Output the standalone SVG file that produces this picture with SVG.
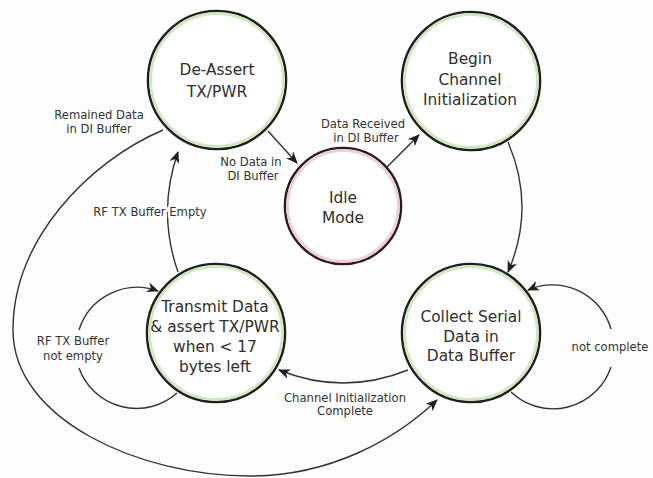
<svg xmlns="http://www.w3.org/2000/svg" width="653" height="478" viewBox="0 0 653 478">
  <defs>
    <marker id="arrow" viewBox="0 0 12 10" refX="11" refY="5" markerWidth="12" markerHeight="10" markerUnits="userSpaceOnUse" orient="auto">
      <path d="M0,0 L12,5 L0,10 L3.5,5 z" fill="#1e1e1e"/>
    </marker>
    <style>
      .ring { fill: #ffffff; stroke: #1e1e1e; stroke-width: 2.6; }
      .glow-green { fill: none; stroke: #d2e6c2; stroke-width: 3; }
      .glow-pink { fill: none; stroke: #ecd1d9; stroke-width: 3; }
      .ring-pink { fill: #ffffff; stroke: #2a1c22; stroke-width: 2.6; }
      .node-text { font-family: "DejaVu Sans", Verdana, sans-serif; font-size: 15.4px; fill: #2e2e2e; text-anchor: middle; }
      .edge { fill: none; stroke: #333333; stroke-width: 1.4; }
      .edge-label { font-family: "DejaVu Sans", Verdana, sans-serif; font-size: 11.6px; fill: #333333; text-anchor: middle; }
      .halo { stroke: #ffffff; stroke-width: 5; paint-order: stroke; stroke-linejoin: round; }
    </style>
  </defs>

  <rect width="653" height="478" fill="#fdfdfd"/>

  <!-- transitions -->
  <g id="connectors">
    <!-- De-Assert -> Idle -->
    <path class="edge" d="M268,131 L297,163" marker-end="url(#arrow)"/>
    <!-- Idle -> Begin Channel Initialization -->
    <path class="edge" d="M387,167 L419,135" marker-end="url(#arrow)"/>
    <!-- Begin -> Collect -->
    <path class="edge" d="M508,142 Q536,207 508,272" marker-end="url(#arrow)"/>
    <!-- Collect self loop (not complete) -->
    <path class="edge" d="M511,392 A61,61 0 0 0 611,367"/>
    <path class="edge" d="M611,329 A61,61 0 0 0 528,290" marker-end="url(#arrow)"/>
    <!-- Collect -> Transmit -->
    <path class="edge" d="M408,370 Q343,396 279,370" marker-end="url(#arrow)"/>
    <!-- Transmit self loop (RF TX Buffer not empty) -->
    <path class="edge" d="M177,393 A61,61 0 0 1 79,368"/>
    <path class="edge" d="M79,330 A61,61 0 0 1 158,291" marker-end="url(#arrow)"/>
    <!-- Transmit -> De-Assert -->
    <path class="edge" d="M178,272 Q157,212 178,152" marker-end="url(#arrow)"/>
    <!-- De-Assert -> Collect (remained data) -->
    <path class="edge" d="M163,130 C88,162 13,240 13,330 C13,420 140,476 250,476 C330,476 395,440 437,400" marker-end="url(#arrow)"/>
  </g>

  <!-- transition labels -->
  <g id="edge-labels">
    <text class="edge-label" x="99" y="119">Remained Data</text>
    <text class="edge-label" x="99" y="133">in DI Buffer</text>
    <text class="edge-label" x="251" y="166">No Data in</text>
    <text class="edge-label" x="253" y="180">DI Buffer</text>
    <text class="edge-label halo" x="150" y="216">RF TX Buffer Empty</text>
    <text class="edge-label" x="363" y="128">Data Received</text>
    <text class="edge-label" x="366" y="142">in DI Buffer</text>
    <text class="edge-label" x="73" y="345">RF TX Buffer</text>
    <text class="edge-label" x="73" y="360">not empty</text>
    <text class="edge-label" x="345" y="402">Channel Initialization</text>
    <text class="edge-label" x="345" y="415">Complete</text>
    <text class="edge-label" x="610" y="351">not complete</text>
  </g>

  <g id="node-deassert">
    <circle class="ring" cx="217" cy="80" r="69"/>
    <circle class="glow-green" cx="217" cy="80" r="66.4"/>
    <text class="node-text" x="217" y="75">De-Assert</text>
    <text class="node-text" x="217" y="97">TX/PWR</text>
  </g>

  <g id="node-begin">
    <circle class="ring" cx="471" cy="81" r="69"/>
    <circle class="glow-green" cx="471" cy="81" r="66.4"/>
    <text class="node-text" x="470" y="64">Begin</text>
    <text class="node-text" x="470" y="85">Channel</text>
    <text class="node-text" x="470" y="105">Initialization</text>
  </g>

  <g id="node-idle">
    <circle class="ring-pink" cx="343" cy="206" r="58"/>
    <circle class="glow-pink" cx="343" cy="206" r="55.4"/>
    <text class="node-text" x="343" y="203">Idle</text>
    <text class="node-text" x="343" y="223">Mode</text>
  </g>

  <g id="node-transmit">
    <circle class="ring" cx="216" cy="333" r="69"/>
    <circle class="glow-green" cx="216" cy="333" r="66.4"/>
    <text class="node-text" x="215" y="312">Transmit Data</text>
    <text class="node-text" x="215" y="332">&amp; assert TX/PWR</text>
    <text class="node-text" x="215" y="352">when &lt; 17</text>
    <text class="node-text" x="215" y="372">bytes left</text>
  </g>

  <g id="node-collect">
    <circle class="ring" cx="471" cy="333" r="69"/>
    <circle class="glow-green" cx="471" cy="333" r="66.4"/>
    <text class="node-text" x="471" y="322">Collect Serial</text>
    <text class="node-text" x="471" y="342">Data in</text>
    <text class="node-text" x="471" y="361">Data Buffer</text>
  </g>
</svg>
